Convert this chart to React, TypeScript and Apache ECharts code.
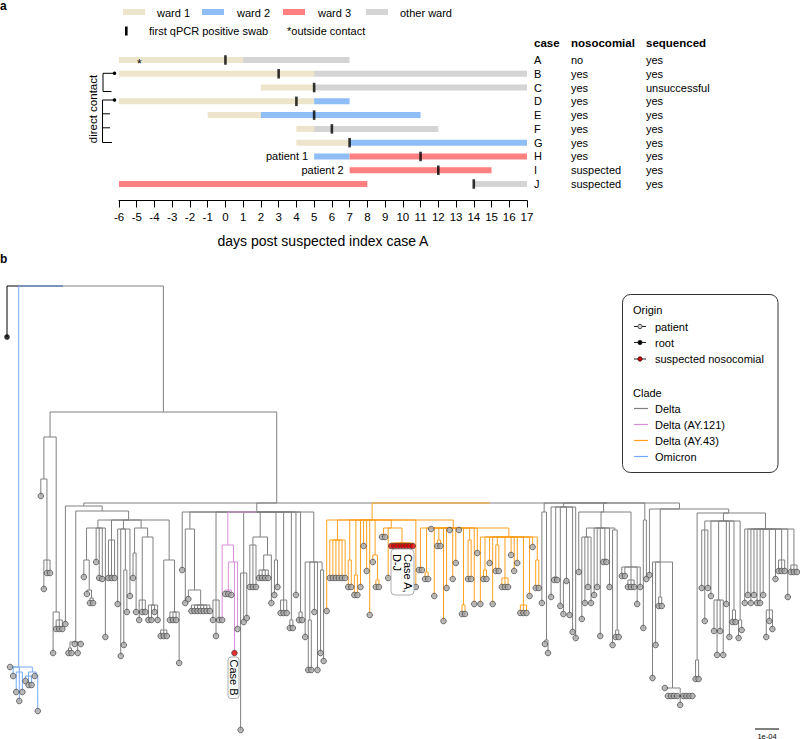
import React, { useEffect, useRef } from 'react';
import * as echarts from 'echarts';

const FONT = "'Liberation Sans', Arial, Helvetica, sans-serif";

// ---------------- panel a data ----------------
const CASES = ['A', 'B', 'C', 'D', 'E', 'F', 'G', 'H', 'I', 'J'];
const NOSOCOMIAL = ['no', 'yes', 'yes', 'yes', 'yes', 'yes', 'yes', 'yes', 'suspected', 'suspected'];
const SEQUENCED = ['yes', 'yes', 'unsuccessful', 'yes', 'yes', 'yes', 'yes', 'yes', 'yes', 'yes'];
const WARDS = ['ward 1', 'ward 2', 'ward 3', 'other ward'];
const WARD_COLORS = ['#ece5cb', '#8fbdf6', '#ff8080', '#d4d4d4'];
// [case, ward index, from day, to day]
const STAYS: [string, number, number, number][] = [
  ['A', 0, -6, 1], ['A', 3, 1, 7],
  ['B', 0, -6, 5], ['B', 3, 5, 17],
  ['C', 0, 2, 5], ['C', 3, 5, 17],
  ['D', 0, -6, 5], ['D', 1, 5, 7],
  ['E', 0, -1, 2], ['E', 1, 2, 11],
  ['F', 0, 4, 5], ['F', 3, 5, 12],
  ['G', 0, 4, 7], ['G', 1, 7, 17],
  ['H', 1, 5, 7], ['H', 2, 7, 17],
  ['I', 2, 7, 15],
  ['J', 2, -6, 8], ['J', 3, 14, 17],
];
const FIRST_POSITIVE_DAY = [0, 3, 5, 4, 5, 6, 7, 11, 12, 14];
const DAY_MIN = -6;
const DAY_MAX = 17;
const NOTES: [string, number, string][] = [['A', -4.85, '*'], ['H', 5, 'patient 1'], ['I', 7, 'patient 2']];

// ---------------- panel b data (tree, absolute divergence from root; 24 units = 1e-04) ----------------
// leaf = depth ; "r" = suspected nosocomial ; "k" = root sequence ; "*n" = n sister tips
// (children)tag:depth ; tag b = Omicron, p = Delta (AY.121), o = Delta (AY.43)
const OMICRON = '(381,390,(406,415,406):386,((395,399,399):390,(390,425):389):386)b:381';
const DELTA_BASAL = '((210,(303,287,287):274):193,(367,(343*3):334):326):151';
const G73 = '((367,367):362,358,367,358):356';
const GA = '((291,(308,(317,317):312):304):274,276,292,293,351):242';
const GB = '(292*3):254';
const GC = '(318,370,(359,326):284,310):243';
const GD = '((292,326):267,((334,326,326):314,(334,334,326,334):319):251):242';
const GE = '((350*3):344,(334,334,334,377):326):274';
const AY121 = '(334,((308,308,309):304,r367,343):276)p:259';
const MID = [
  '284', '(317,(313,(325*7):319):304):243', '(334,350,334):314', AY121, '(444,336,332):287',
  '((301*3):259,((292*4):284,317):269):251', '(309,301):274', '(327*3):314', '(342,342):334', '309',
  '(334,334):326', '(351,(384,384):334,326,384,(367,375):284):276',
];
const AY43_C = '(318,(293,293):284,277,318,(285,285):259,(301*3):292,269,285,277,(327*3):319,310,261,(302,302):274):251';
const AY43_B = '((284,284):282,(293,293):286,243,310,(260,260):254,335,302,244,293,277,244,(328,328):319,(293,293):254,318,267,' + AY43_C + '):242';
const AY43 = '(325,(292*6):254,(301,301):274,(309,309):289,301,260,285,329,(276,(301,301):294):269,((251,251):249,292,(r260*8):257):242,301,' + AY43_B + ')o:234';
const RA = '(317,(358,367):354):226';
const RB = '(311,(294,294):291,320,(328,295,329):296,346,352):221';
const RC = '(286,((333,317,301,317):251,309,301,350,(276,276):274,301,(359,(351,351):344):244):242,(290,290,(301*3):294,318,301):281):226';
const RD = '(342,293):234';
const RE1 = '(392,359,(320,320):311,(402,(410*4,419,410*4):410):402):276';
const RF = '((302,335,302):244,310,(345,369,345,369):314,318,351,(336,336):324,(352,344):334):235';
const RG = '(317,309,317,309,317,317,309,(351,335,343):324,293,(285*3):274,311,(286*3):279):243';
const RE = '(289,' + RE1 + ',((393,393):374,' + RF + ',' + RG + '):227):223';
const RIGHT = '(' + [RA, RB, RC, RD, RE].join(',') + '):217';
const DELTA_LEFT = '(338,(' + G73 + ',(' + [GA, GB, GC, GD, GE].join(',') + '):234):225):220';
const DELTA_MID = '(' + MID.join(',') + '):226';
const TREE = '(k51,' + OMICRON + ',(' + DELTA_BASAL + ',(' + DELTA_LEFT + ',' + DELTA_MID + ',(' + AY43 + ',' + RIGHT + '):217):217):126):0';

const CLADE_KEYS = ['k', 'g', 'p', 'o', 'b'];
const CLADE_COLORS = ['#000000', '#808080', '#d88fd8', '#ffa11f', '#74a8f7'];
const CLADE_NAMES = ['Delta', 'Delta (AY.121)', 'Delta (AY.43)', 'Omicron'];
const SCALE_BAR_UNITS = 24; // = 1e-04

type TNode = { depth: number; children: TNode[]; clade?: string; flag?: string; x?: number; color?: string };

function parseTree(src: string): TNode {
  const s = src.replace(/\s+/g, '');
  let i = 0;
  const num = () => {
    const m = /^\d+(\.\d+)?/.exec(s.slice(i));
    i += m![0].length;
    return parseFloat(m![0]);
  };
  const parseList = (): TNode[] => {
    if (s[i] === '(') {
      i++;
      const children: TNode[] = [];
      for (;;) {
        children.push(...parseList());
        const c = s[i++];
        if (c === ')') break;
      }
      let clade: string | undefined;
      if (/[a-z]/.test(s[i])) clade = s[i++];
      i++; // ':'
      return [{ depth: num(), children, clade }];
    }
    let flag: string | undefined;
    if (/[a-z]/.test(s[i])) flag = s[i++];
    const d = num();
    let n = 1;
    if (s[i] === '*') { i++; n = num(); }
    return Array.from({ length: n }, () => ({ depth: d, children: [], flag }));
  };
  return parseList()[0];
}

function layoutTree(root: TNode) {
  let leaf = 0;
  const assign = (n: TNode, color: string) => {
    n.color = n.clade ? n.clade : n.flag === 'k' ? 'k' : color;
    if (!n.children.length) {
      n.x = leaf++;
    } else {
      n.children.forEach((c) => assign(c, n.color!));
      n.x = n.children.reduce((a, c) => a + (c.x as number), 0) / n.children.length;
    }
  };
  assign(root, 'g');
  const segs: number[][] = [];
  const tips: { x: number; d: number; flag?: string }[] = [];
  const walk = (n: TNode, pd: number | null) => {
    const ci = CLADE_KEYS.indexOf(n.color!);
    if (pd !== null) segs.push([n.x!, pd, n.x!, n.depth, ci]);
    if (n.children.length) {
      n.children.forEach((c) => segs.push([n.x!, n.depth, c.x!, n.depth, CLADE_KEYS.indexOf(c.color!)]));
      n.children.forEach((c) => walk(c, n.depth));
    } else {
      tips.push({ x: n.x!, d: n.depth, flag: n.flag });
    }
  };
  walk(root, null);
  segs.sort((a, b) => a[4] - b[4]);
  return { segs, tips, nLeaf: leaf };
}

function buildOption() {
  const tree = layoutTree(parseTree(TREE));
  const rowOf = (c: string) => CASES.indexOf(c);

  const txt = (x: number, y: number, text: string, extra: any = {}, rot = 0) => ({
    type: 'text', x, y, z: 100, rotation: rot,
    style: { text, fontSize: 11, fontFamily: FONT, fill: '#000', align: 'left', verticalAlign: 'middle', ...extra },
  });
  const line = (x1: number, y1: number, x2: number, y2: number, stroke = '#000', lw = 1) => ({
    type: 'line', z: 100, shape: { x1, y1, x2, y2 }, style: { stroke, lineWidth: lw },
  });

  const graphic: any[] = [];
  // panel letters
  graphic.push(txt(0, 6, 'a', { fontWeight: 'bold', fontSize: 12 }));
  graphic.push(txt(0, 259, 'b', { fontWeight: 'bold', fontSize: 12 }));
  // panel a legend
  const swX = [123, 202, 283, 366];
  const lbX = [157, 237, 318, 400];
  WARDS.forEach((w, i) => {
    graphic.push({ type: 'rect', z: 100, shape: { x: swX[i], y: 9, width: 22, height: 6 }, style: { fill: WARD_COLORS[i] } });
    graphic.push(txt(lbX[i], 12.5, w));
  });
  graphic.push({ type: 'rect', z: 100, shape: { x: 125, y: 26.5, width: 2.6, height: 9 }, style: { fill: '#000' } });
  graphic.push(txt(149, 31, 'first qPCR positive swab'));
  graphic.push(txt(287, 31, '*outside contact'));
  // table headers
  graphic.push(txt(534, 43, 'case', { fontWeight: 'bold', fontSize: 11.5 }));
  graphic.push(txt(571, 43, 'nosocomial', { fontWeight: 'bold', fontSize: 11.5 }));
  graphic.push(txt(646, 43, 'sequenced', { fontWeight: 'bold', fontSize: 11.5 }));
  // direct contact brackets
  graphic.push(txt(93, 109, 'direct contact', { align: 'center', fontSize: 11.5 }, Math.PI / 2));
  graphic.push({ type: 'polyline', z: 100, shape: { points: [[114, 73.3], [103, 73.3], [103, 91.5], [111.5, 91.5]] }, style: { stroke: '#000', lineWidth: 1, fill: null } });
  graphic.push({ type: 'circle', z: 100, shape: { cx: 114.5, cy: 73.3, r: 1.8 }, style: { fill: '#000' } });
  graphic.push({ type: 'polyline', z: 100, shape: { points: [[114, 100], [102.5, 100], [102.5, 142.5], [112, 142.5]] }, style: { stroke: '#000', lineWidth: 1, fill: null } });
  graphic.push({ type: 'circle', z: 100, shape: { cx: 114.5, cy: 100, r: 1.8 }, style: { fill: '#000' } });
  graphic.push(line(102.5, 113.8, 110, 113.8));
  graphic.push(line(102.5, 127.8, 110, 127.8));

  // panel b legend
  graphic.push({ type: 'rect', z: 100, shape: { x: 622.5, y: 294.5, width: 155.5, height: 178, r: 8 }, style: { fill: '#fff', stroke: '#333', lineWidth: 1 } });
  graphic.push(txt(633, 309.5, 'Origin'));
  const origin = [['patient', '#d0d0d0', 326.5], ['root', '#000', 342.5], ['suspected nosocomial', '#e00000', 359]] as [string, string, number][];
  origin.forEach(([t, c, y]) => {
    graphic.push(line(634, y, 646, y, '#222'));
    graphic.push({ type: 'circle', z: 101, shape: { cx: 640, cy: y, r: 2.2 }, style: { fill: c, stroke: '#222', lineWidth: 0.8 } });
    graphic.push(txt(655, y, t));
  });
  graphic.push(txt(633, 393, 'Clade'));
  const cladeY = [408.5, 424.5, 440.5, 456.5];
  CLADE_NAMES.forEach((n, i) => {
    graphic.push(line(634, cladeY[i], 648, cladeY[i], CLADE_COLORS[i + 1], 1.2));
    graphic.push(txt(655, cladeY[i], n));
  });
  // case labels
  graphic.push({ type: 'rect', z: 100, shape: { x: 228, y: 657, width: 11, height: 41.5, r: 3 }, style: { fill: '#fff', stroke: '#999', lineWidth: 0.8 } });
  graphic.push(txt(233.5, 677.5, 'Case B', { align: 'center', fontSize: 11 }, -Math.PI / 2));
  graphic.push({ type: 'rect', z: 100, shape: { x: 391, y: 549, width: 23, height: 46, r: 4 }, style: { fill: '#fff', stroke: '#999', lineWidth: 0.8 } });
  graphic.push(txt(402.5, 554, 'Case A,\nD-J', { align: 'left', fontSize: 11, lineHeight: 11 }, -Math.PI / 2));
  // scale bar
  graphic.push(line(755, 729, 755 + SCALE_BAR_UNITS, 729, '#000', 1));
  graphic.push(txt(767, 736, '1e-04', { align: 'center', fontSize: 7.5 }));

  const rightAxis = (offset: number, labels: string[]) => ({
    gridIndex: 0, type: 'category', data: CASES, inverse: true, position: 'right', offset,
    axisLine: { show: false }, axisTick: { show: false }, splitLine: { show: false },
    axisLabel: { margin: 0, fontSize: 11, color: '#000', fontFamily: FONT, interval: 0, formatter: (_v: string, i: number) => labels[i] },
  });

  return {
    animation: false,
    backgroundColor: '#fff',
    grid: [
      { left: 119, top: 53.1, width: 408, height: 137.8 },
      { left: 7, top: 286, width: 790, height: 450 },
    ],
    xAxis: [
      {
        gridIndex: 0, type: 'value', min: DAY_MIN, max: DAY_MAX, interval: 1, position: 'bottom', offset: 9.6,
        axisLine: { show: true, lineStyle: { color: '#000', width: 1 } },
        axisTick: { show: true, length: 7, lineStyle: { color: '#000', width: 1 } },
        axisLabel: { fontSize: 11.5, color: '#000', margin: 10, fontFamily: FONT },
        splitLine: { show: false },
        name: 'days post suspected index case A', nameLocation: 'middle', nameGap: 33,
        nameTextStyle: { fontSize: 14, color: '#000', fontFamily: FONT },
      },
      { gridIndex: 1, type: 'value', min: 0, max: tree.nLeaf - 1, show: false },
    ],
    yAxis: [
      { gridIndex: 0, type: 'category', data: CASES, inverse: true, show: false },
      rightAxis(7, CASES),
      rightAxis(44, NOSOCOMIAL),
      rightAxis(119, SEQUENCED),
      { gridIndex: 1, type: 'value', min: 0, max: 450, inverse: true, show: false },
    ],
    graphic,
    series: [
      {
        type: 'custom', name: 'stays', xAxisIndex: 0, yAxisIndex: 0, clip: false,
        data: STAYS.map((s) => [s[2], s[3], rowOf(s[0]), s[1]]),
        encode: { x: [0, 1], y: 2 },
        renderItem: (params: any, api: any) => {
          const st = STAYS[params.dataIndex];
          const a = api.coord([st[2], rowOf(st[0])]);
          const b = api.coord([st[3], rowOf(st[0])]);
          return { type: 'rect', shape: { x: a[0], y: a[1] - 3, width: b[0] - a[0], height: 6 }, style: { fill: WARD_COLORS[st[1]] } };
        },
        z: 2,
      },
      {
        type: 'scatter', name: 'first qPCR positive swab', xAxisIndex: 0, yAxisIndex: 0,
        data: FIRST_POSITIVE_DAY.map((d, i) => [d, i]), symbol: 'rect', symbolSize: [2.6, 9.5],
        itemStyle: { color: '#000' }, z: 5,
      },
      {
        type: 'custom', name: 'notes', xAxisIndex: 0, yAxisIndex: 0, clip: false,
        data: NOTES.map((n) => [n[1], rowOf(n[0])]),
        encode: { x: 0, y: 1 },
        renderItem: (params: any, api: any) => {
          const n = NOTES[params.dataIndex];
          const p = api.coord([n[1], rowOf(n[0])]);
          if (n[2] === '*') {
            return { type: 'text', x: p[0], y: p[1] + 4.5, style: { text: '*', fontSize: 12, fontFamily: FONT, fill: '#000', align: 'center', verticalAlign: 'middle' } };
          }
          return { type: 'text', x: p[0] - 6, y: p[1], style: { text: n[2], fontSize: 11, fontFamily: FONT, fill: '#000', align: 'right', verticalAlign: 'middle' } };
        },
        z: 6,
      },
      {
        type: 'custom', name: 'branches', xAxisIndex: 1, yAxisIndex: 4, clip: false,
        data: tree.segs,
        encode: { x: [0, 2], y: [1, 3] },
        renderItem: (_params: any, api: any) => {
          const p1 = api.coord([api.value(0), api.value(1)]);
          const p2 = api.coord([api.value(2), api.value(3)]);
          return { type: 'line', shape: { x1: p1[0], y1: p1[1], x2: p2[0], y2: p2[1] }, style: { stroke: CLADE_COLORS[api.value(4)], lineWidth: 1 } };
        },
        z: 2,
      },
      {
        type: 'scatter', name: 'patient', xAxisIndex: 1, yAxisIndex: 4,
        data: tree.tips.filter((t) => !t.flag).map((t) => [t.x, t.d]),
        symbolSize: 5.6, itemStyle: { color: '#a9a9a9', borderColor: '#333', borderWidth: 0.8 }, z: 3,
      },
      {
        type: 'scatter', name: 'suspected nosocomial', xAxisIndex: 1, yAxisIndex: 4,
        data: tree.tips.filter((t) => t.flag === 'r').map((t) => [t.x, t.d]),
        symbolSize: 5.6, itemStyle: { color: '#e00000', borderColor: '#333', borderWidth: 0.8 }, z: 4,
      },
      {
        type: 'scatter', name: 'root', xAxisIndex: 1, yAxisIndex: 4,
        data: tree.tips.filter((t) => t.flag === 'k').map((t) => [t.x, t.d]),
        symbolSize: 5.6, itemStyle: { color: '#000' }, z: 4,
      },
    ],
  };
}

export default function App() {
  const ref = useRef<HTMLDivElement>(null);
  useEffect(() => {
    const chart = echarts.init(ref.current!, null, { renderer: 'svg' });
    chart.setOption(buildOption() as any);
    return () => chart.dispose();
  }, []);
  return <div ref={ref} style={{ position: 'absolute', left: 0, top: 0, width: 800, height: 739, background: '#fff' }} />;
}
